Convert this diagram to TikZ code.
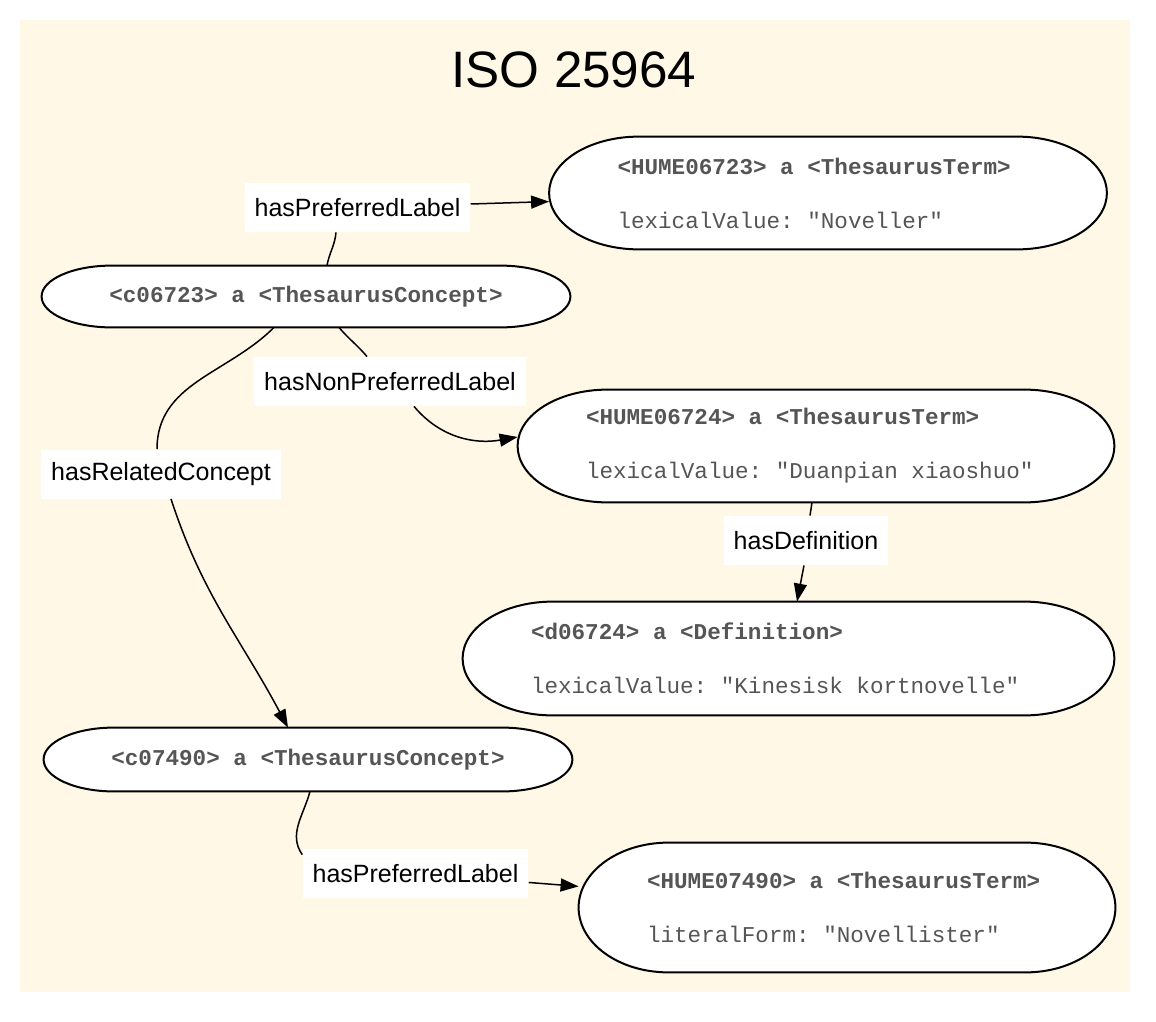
\documentclass[tikz,border=0pt]{standalone}
\usepackage{fontspec}
\setmainfont{Liberation Sans}
\newfontfamily\termfont{Liberation Mono}
\usetikzlibrary{arrows.meta, positioning, calc, backgrounds}
\definecolor{framecream}{HTML}{FFF8E6}
\definecolor{termgray}{HTML}{555555}
% two lines of a term node, with the font's own word spaces
\newcommand\termlines[2]{\spaceskip=0pt\xspaceskip=0pt\frenchspacing
    {\bfseries #1}\\[13.4pt]#2}

\begin{document}
\begin{tikzpicture}[
    x=0.5pt, y=0.5pt,
    every node/.style={font=\fontsize{12.5pt}{15pt}\selectfont},
    shapebox/.style={
        rectangle,
        inner ysep=2pt,
        text=termgray,
        font=\termfont\fontsize{11.3pt}{13.6pt}\selectfont
    },
    termbox/.style={
        shapebox,
        inner xsep=34pt,
        align=left,
        minimum height=56pt
    },
    conceptbox/.style={
        shapebox,
        font=\termfont\bfseries\fontsize{11.3pt}{13.6pt}\selectfont,
        minimum width=264pt,
        minimum height=30.5pt
    },
    edgelabel/.style={
        fill=white,
        inner xsep=5pt,
        minimum height=24.5pt
    },
    outline/.style={draw=black, line width=1pt, fill=white},
    link/.style={draw=black, line width=0.75pt},
    arrow/.style={link, -{Triangle[length=9pt, width=6.5pt]}}
]

\useasboundingbox (0,0) rectangle (1156,-1022);

% Title
\node[font=\fontsize{25.6pt}{30pt}\selectfont] (title) at (574,-70) {ISO 25964};

% Concept nodes
\node[conceptbox] (conA) at (306,-296.5) {<c06723> a <ThesaurusConcept>};
\node[conceptbox, minimum height=31.5pt] (conB) at (308,-759.5) {<c07490> a <ThesaurusConcept>};

% Term and definition nodes
\node[termbox, text width=210.5pt] (hume1) at (828,-193)
    {\termlines{<HUME06723> a <ThesaurusTerm>}{lexicalValue: "Noveller"}};
\node[termbox, text width=230pt] (hume2) at (816,-446)
    {\termlines{<HUME06724> a <ThesaurusTerm>}{lexicalValue: "Duanpian xiaoshuo"}};
\node[termbox, text width=257.5pt, minimum height=56.5pt] (defn) at (788.5,-658.5)
    {\termlines{<d06724> a <Definition>}{lexicalValue: "Kinesisk kortnovelle"}};
\node[termbox, text width=200pt, minimum height=64.5pt] (hume3) at (847,-907.5)
    {\termlines{<HUME07490> a <ThesaurusTerm>}{literalForm: "Novellister"}};

% Edge labels
\node[edgelabel] (lblA) at (357.5,-207.5) {hasPreferredLabel};
\node[edgelabel] (lblB) at (390,-381.5) {hasNonPreferredLabel};
\node[edgelabel] (lblC) at (161,-474) {hasRelatedConcept};
\node[edgelabel] (lblD) at (806,-540.5) {hasDefinition};
\node[edgelabel] (lblE) at (415.5,-873.5) {hasPreferredLabel};

% Frame and node outlines
\begin{scope}[on background layer]
    \fill[framecream] (20,-20) rectangle (1130,-992);
    \foreach \nd/\rx in {hume1/45pt, hume2/45pt, defn/45pt, hume3/45pt, conA/35pt, conB/35pt}
        \draw[outline] let \p1=(\nd.north west), \p2=(\nd.south east), \n1={(\y1-\y2)/2} in
            ([xshift=\rx]\nd.north west) -- ([xshift=-\rx]\nd.north east)
            arc[start angle=90, end angle=-90, x radius=\rx, y radius=\n1]
            -- ([xshift=\rx]\nd.south west)
            arc[start angle=270, end angle=90, x radius=\rx, y radius=\n1] -- cycle;
\end{scope}

% Connectors
\draw[link] ([xshift=10.5pt]conA.north) to[out=80, in=-95] ([xshift=-10.75pt]lblA.south);
\draw[arrow] (lblA) -- (hume1);

\draw[link] ([xshift=16.5pt]conA.south) to[out=-50, in=130] ([xshift=-11.5pt]lblB.north);
\draw[arrow] ([xshift=12pt]lblB.south) to[out=-50, in=190] ([yshift=4.5pt]hume2.west);

\draw[link] ([xshift=-16pt]conA.south) to[out=-135, in=90] ([xshift=-2pt]lblC.north);
\draw[arrow] ([xshift=5pt]lblC.south) to[out=-72, in=118] ([xshift=-10pt]conB.north);

\draw[link] ([xshift=-2pt]hume2.south) -- ([xshift=2pt]lblD.north);
\draw[arrow] ([xshift=-1pt]lblD.south) -- ([xshift=4.25pt]defn.north);

\draw[link] ([xshift=1pt]conB.south) to[out=-105, in=125] ([yshift=-3pt]lblE.north west);
\draw[arrow] (lblE) -- (hume3);

\end{tikzpicture}
\end{document}
